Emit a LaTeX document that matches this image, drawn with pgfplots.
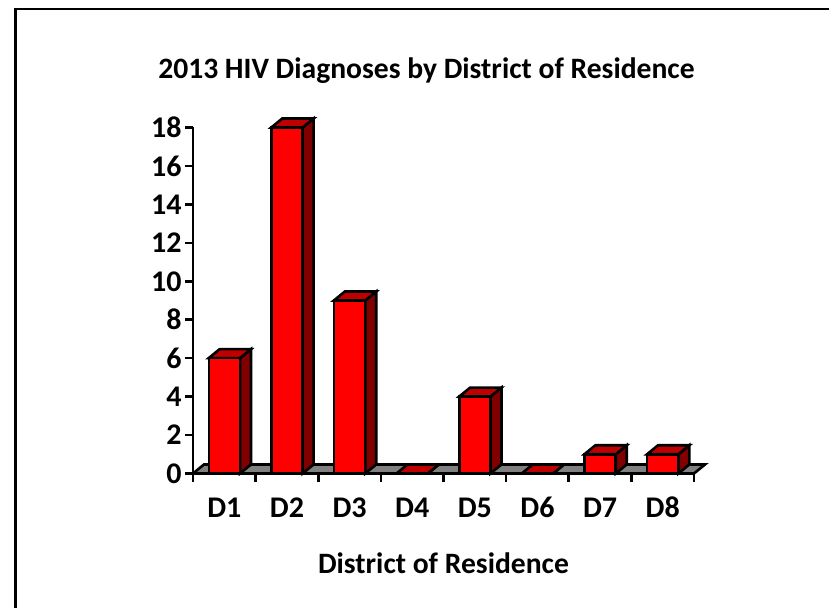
\documentclass[border=0pt]{standalone}
\usepackage{pgfplots}
\pgfplotsset{compat=1.18}
\usepackage{fontspec}
\setmainfont{Carlito}
\definecolor{bsd}{HTML}{800000}
\definecolor{btp}{HTML}{BF0000}
\definecolor{flr}{HTML}{808080}
% side and top faces of one bar: left, right, back left, back right, value, value + depth
\newcommand{\faces}[6]{%
  \addplot[fill=bsd,draw=black,line width=2.6pt] coordinates {(#2,0) (#4,0.47) (#4,#6) (#2,#5)} --cycle;
  \addplot[fill=btp,draw=black,line width=2.6pt] coordinates {(#1,#5) (#3,#6) (#4,#6) (#2,#5)} --cycle;
}
\begin{document}
\begin{tikzpicture}[x=1pt,y=1pt]
\path[use as bounding box] (0,0) rectangle (829,608);
\draw[line width=2.7pt,black] (15.3,0) -- (15.3,599) -- (829,599);
\begin{axis}[
  at={(193pt,134.5pt)}, anchor=south west,
  scale only axis, width=501pt, height=346pt,
  xmin=0, xmax=8, ymin=0, ymax=18,
  clip=false,
  axis x line=bottom, axis y line=left,
  axis line style={-, line width=2.6pt},
  xtick={0,1,...,8},
  xticklabels={D1,D2,D3,D4,D5,D6,D7,D8},
  x tick label as interval=true,
  ytick={0,2,...,18},
  tick align=outside,
  major tick length=8pt,
  tick style={black, line width=2.6pt},
  /pgf/number format/assume math mode=true,
  tick label style={font=\fontsize{30}{30}\selectfont\bfseries},
  xticklabel style={yshift=-13pt, text height=19pt, text depth=0pt},
  yticklabel style={xshift=0pt},
  title={2013 HIV Diagnoses by District of Residence},
  title style={font=\fontsize{29.6}{30}\selectfont\bfseries, at={(axis description cs:0.466,1.172)}, anchor=center, yshift=-9pt},
  xlabel={District of Residence},
  xlabel style={font=\fontsize{29.6}{30}\selectfont\bfseries, at={(axis description cs:0.5,-0.259)}, anchor=center},
]
\addplot[fill=flr,draw=black,line width=2.6pt] coordinates {(0,0) (0.176,0.47) (8.176,0.47) (8,0)} --cycle;
\faces{0.25}{0.75}{0.426}{0.926}{6}{6.47}
\faces{1.25}{1.75}{1.426}{1.926}{18}{18.47}
\faces{2.25}{2.75}{2.426}{2.926}{9}{9.47}
\faces{3.25}{3.75}{3.426}{3.926}{0}{0.47}
\faces{4.25}{4.75}{4.426}{4.926}{4}{4.47}
\faces{5.25}{5.75}{5.426}{5.926}{0}{0.47}
\faces{6.25}{6.75}{6.426}{6.926}{1}{1.47}
\faces{7.25}{7.75}{7.426}{7.926}{1}{1.47}
\addplot[ybar, bar shift=0pt, bar width=31pt, fill=red, draw=black, line width=2.6pt]
  coordinates {(0.5,6) (1.5,18) (2.5,9) (3.5,0) (4.5,4) (5.5,0) (6.5,1) (7.5,1)};
\end{axis}
\end{tikzpicture}
\end{document}
